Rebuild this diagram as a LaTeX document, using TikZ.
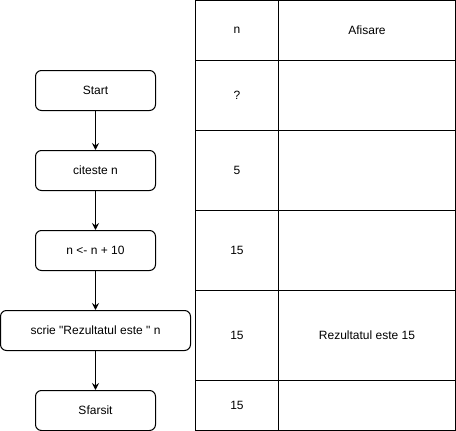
\documentclass[tikz,border=0pt]{standalone}
\usepackage{fontspec}
\setmainfont{Liberation Sans}
\newfontfamily\plainsans{Liberation Sans}
\usetikzlibrary{arrows.meta}
\begin{document}
\begin{tikzpicture}[x=1pt,y=-1pt,
  flowbox/.style={draw,line width=1pt,rounded corners=6pt,fill=white,font=\plainsans\fontsize{12}{14}\selectfont},
  cell/.style={font=\plainsans\fontsize{12}{14}\selectfont},
  flowarrow/.style={draw,line width=1pt,-{Stealth[length=7pt,width=7pt,inset=2.5pt]}},
  grid/.style={draw,line width=1pt}]
\useasboundingbox (0,0) rectangle (456,431);
% flowchart
\node[flowbox,minimum width=120pt,minimum height=40pt] (start) at (95.5,90.5) {Start};
\node[flowbox,minimum width=120pt,minimum height=40pt] (read) at (95.5,170.5) {citeste n};
\node[flowbox,minimum width=120pt,minimum height=40pt] (assign) at (95.5,250.5) {n <- n + 10};
\node[flowbox,minimum width=190pt,minimum height=40pt] (write) at (95.5,330.5) {scrie "Rezultatul este " n};
\node[flowbox,minimum width=120pt,minimum height=40pt] (stop) at (95.5,410.5) {Sfarsit};
\draw[flowarrow] (start) -- (read);
\draw[flowarrow] (read) -- (assign);
\draw[flowarrow] (assign) -- (write);
\draw[flowarrow] (write) -- (stop);
% table
\draw[grid] (195.5,0.5) rectangle (455.5,430.5);
\draw[grid] (278.5,0.5) -- (278.5,430.5);
\foreach \yy in {60.5,130.5,210.5,290.5,380.5}{\draw[grid] (195.5,\yy) -- (455.5,\yy);}
\node[cell] (h1) at (237,30.5) {n};
\node[cell] (h2) at (367,30.5) {Afisare};
\node[cell] (r1) at (237,95.5) {?};
\node[cell] (r2) at (237,170.5) {5};
\node[cell] (r3) at (237,250.5) {15};
\node[cell] (r4) at (237,335.5) {15};
\node[cell] (r4b) at (367,335.5) {Rezultatul este 15};
\node[cell] (r5) at (237,405.5) {15};
\end{tikzpicture}
\end{document}
